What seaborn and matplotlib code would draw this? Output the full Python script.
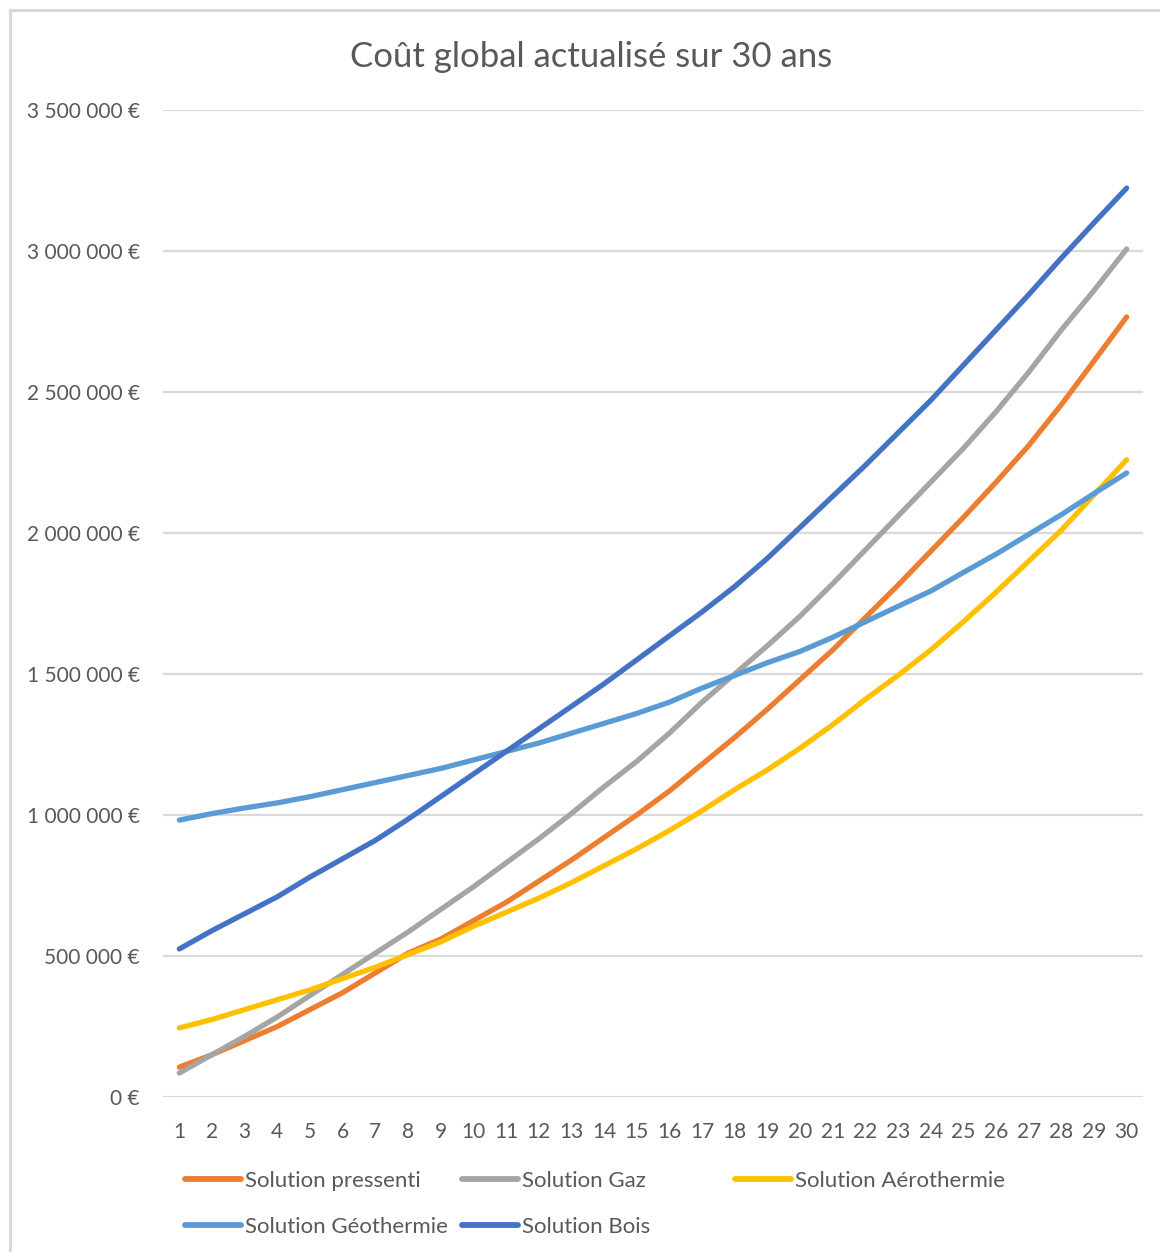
import matplotlib
matplotlib.use("Agg")
import matplotlib.pyplot as plt
from matplotlib.patches import Rectangle
from matplotlib.ticker import FuncFormatter, MultipleLocator
import seaborn as sns
import pandas as pd

# Years of the study period
years = list(range(1, 31))

# Discounted cumulative cost per solution (in euros)
pressenti = [106000, 150000, 200000, 250000, 310000, 370000, 440000, 510000, 560000, 625000,
             690000, 765000, 840000, 920000, 1000000, 1085000, 1180000, 1275000, 1375000, 1480000,
             1585000, 1700000, 1815000, 1935000, 2055000, 2180000, 2310000, 2455000, 2610000, 2766000]
gaz = [85000, 150000, 215000, 284000, 360000, 435000, 510000, 585000, 665000, 745000,
       830000, 915000, 1005000, 1100000, 1190000, 1290000, 1400000, 1500000, 1600000, 1705000,
       1820000, 1940000, 2060000, 2180000, 2300000, 2430000, 2570000, 2720000, 2860000, 3007000]
aerothermie = [245000, 275000, 310000, 345000, 380000, 420000, 460000, 505000, 550000, 605000,
               655000, 705000, 760000, 820000, 880000, 945000, 1015000, 1090000, 1160000, 1237000,
               1320000, 1410000, 1495000, 1585000, 1685000, 1790000, 1900000, 2010000, 2135000, 2260000]
geothermie = [982000, 1005000, 1025000, 1043000, 1065000, 1090000, 1115000, 1140000, 1165000, 1195000,
              1225000, 1255000, 1290000, 1325000, 1360000, 1400000, 1450000, 1495000, 1540000, 1580000,
              1630000, 1685000, 1740000, 1794000, 1860000, 1925000, 1995000, 2065000, 2140000, 2213000]
bois = [525000, 590000, 650000, 710000, 780000, 845000, 910000, 985000, 1065000, 1145000,
        1225000, 1305000, 1385000, 1465000, 1550000, 1635000, 1720000, 1810000, 1910000, 2020000,
        2130000, 2240000, 2355000, 2470000, 2595000, 2720000, 2845000, 2975000, 3100000, 3223000]

series_names = ["Solution pressenti", "Solution Gaz", "Solution Aérothermie",
                "Solution Géothermie", "Solution Bois"]
series_values = [pressenti, gaz, aerothermie, geothermie, bois]
colors = ["#ED7D31", "#A5A5A5", "#FFC000", "#5B9BD5", "#4472C4"]

title = "Coût global actualisé sur 30 ans"

df = pd.DataFrame({
    "Année": [y for _ in series_names for y in years],
    "Coût": [v for vals in series_values for v in vals],
    "Solution": [n for n in series_names for _ in years],
})

sns.set_theme(style="white")
plt.rcParams["font.family"] = ["Lato", "DejaVu Sans"]

W, H = 1160, 1252
fig = plt.figure(figsize=(W / 100, H / 100), dpi=100)
fig.patch.set_facecolor("white")

# Chart frame
fig.patches.append(Rectangle((10 / W, -0.05), 1.2, (H - 10) / H + 0.05,
                             transform=fig.transFigure, fill=False,
                             edgecolor="#d9d9d9", linewidth=2.2, zorder=0))

ax = fig.add_axes([163 / W, 155 / H, 980 / W, 987 / H])

sns.lineplot(data=df, x="Année", y="Coût", hue="Solution", hue_order=series_names,
             palette=colors, linewidth=3.8, legend=False, ax=ax, sort=False)
for ln in ax.get_lines():
    ln.set_solid_capstyle("round")
    ln.set_solid_joinstyle("round")

ax.set_xlim(0.5, 30.5)
ax.set_ylim(0, 3500000)
ax.yaxis.set_major_locator(MultipleLocator(500000))
ax.set_xticks(years)
ax.set_xticklabels([str(y) for y in years])
ax.yaxis.set_major_formatter(FuncFormatter(lambda v, p: f"{int(v):,}".replace(",", " ") + " €"))

ax.grid(axis="y", color="#d9d9d9", linewidth=1.6)
ax.set_axisbelow(True)
for s in ax.spines.values():
    s.set_visible(False)
ax.tick_params(axis="both", length=0, labelsize=15, colors="#595959")
ax.tick_params(axis="y", pad=16.5)
ax.tick_params(axis="x", pad=18)
ax.set_xlabel("")
ax.set_ylabel("")

fig.text(591 / W, 1 - 57 / H, title, ha="center", va="center",
         fontsize=25, color="#595959")

# Legend laid out in three columns, two rows
handles = {n: plt.Line2D([], [], color=c, linewidth=4.2, solid_capstyle="round")
           for n, c in zip(series_names, colors)}
columns = [
    (185, ["Solution pressenti", "Solution Géothermie"]),
    (462, ["Solution Gaz", "Solution Bois"]),
    (735, ["Solution Aérothermie"]),
]
for x0, names in columns:
    fig.legend([handles[n] for n in names], names,
               loc="upper left", bbox_to_anchor=(x0 / W, 1 - 1171 / H),
               frameon=False, fontsize=16, handlelength=2.5,
               handletextpad=0.18, labelspacing=1.15, borderpad=0, borderaxespad=0,
               labelcolor="#595959")

fig.savefig("out.png", dpi=100, facecolor="white")
